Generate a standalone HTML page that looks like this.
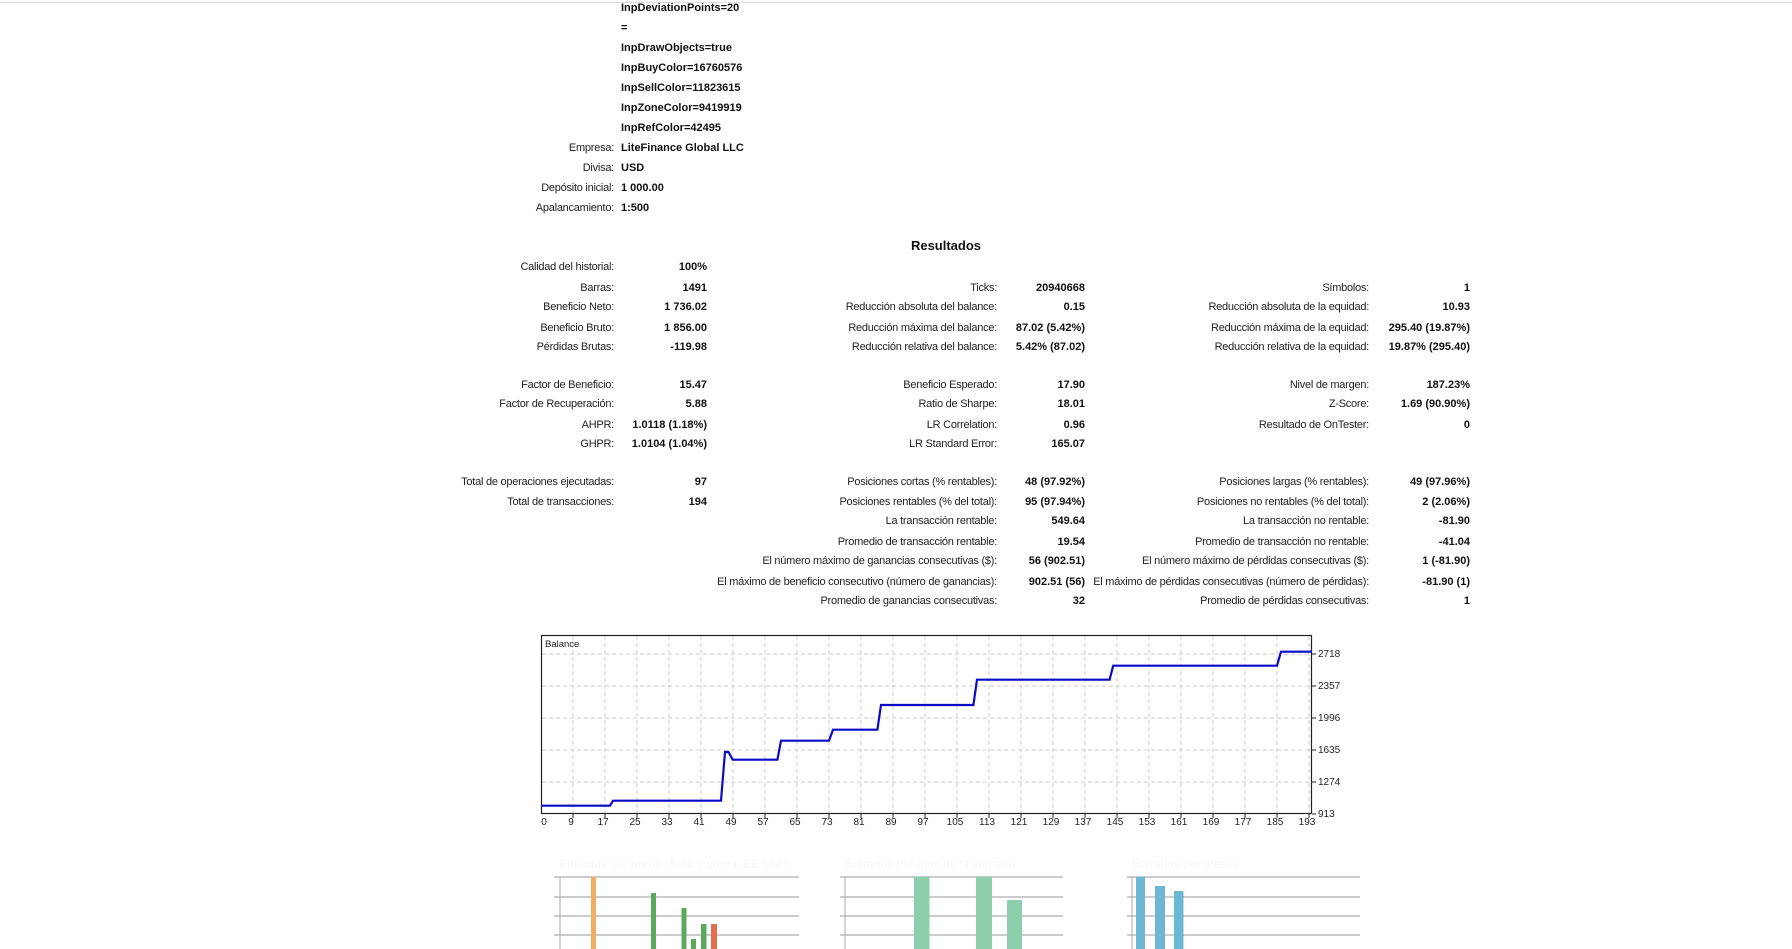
<!DOCTYPE html>
<html><head><meta charset="utf-8"><style>
body{margin:0;width:1792px;height:949px;overflow:hidden;background:#fff;position:relative;font-family:"Liberation Sans",sans-serif;color:#111}
.l,.v,.r{position:absolute;font-size:11px;line-height:14px;white-space:nowrap}
.l{text-align:right;color:#222;letter-spacing:-0.25px}
.v{font-weight:bold}
.r{font-weight:bold;text-align:right}
</style></head><body>
<div style="position:absolute;left:0;top:2px;width:1792px;height:1px;background:#ddd"></div>
<div id="c"></div>
<script>
(function(){
var c=document.getElementById('c'),h='';
function L(x,y,t){h+='<div class="l" style="right:'+(1792-x)+'px;top:'+(y-6)+'px">'+t+'</div>';}
function V(x,y,t){h+='<div class="v" style="left:'+x+'px;top:'+(y-6)+'px">'+t+'</div>';}
function R(x,y,t){h+='<div class="r" style="right:'+(1792-x)+'px;top:'+(y-6)+'px">'+t+'</div>';}
var topRows=[["","InpDeviationPoints=20"],["","="],["","InpDrawObjects=true"],["","InpBuyColor=16760576"],["","InpSellColor=11823615"],["","InpZoneColor=9419919"],["","InpRefColor=42495"],["Empresa:","LiteFinance Global LLC"],["Divisa:","USD"],["Depósito inicial:","1 000.00"],["Apalancamiento:","1:500"]];
topRows.forEach(function(r,i){var y=7+20*i;if(r[0])L(614,y,r[0]);V(621,y,r[1]);});
var rows=[
[266,"Calidad del historial:","100%"],
[287,"Barras:","1491","Ticks:","20940668","Símbolos:","1"],
[306,"Beneficio Neto:","1 736.02","Reducción absoluta del balance:","0.15","Reducción absoluta de la equidad:","10.93"],
[327,"Beneficio Bruto:","1 856.00","Reducción máxima del balance:","87.02 (5.42%)","Reducción máxima de la equidad:","295.40 (19.87%)"],
[346,"Pérdidas Brutas:","-119.98","Reducción relativa del balance:","5.42% (87.02)","Reducción relativa de la equidad:","19.87% (295.40)"],
[384,"Factor de Beneficio:","15.47","Beneficio Esperado:","17.90","Nivel de margen:","187.23%"],
[403,"Factor de Recuperación:","5.88","Ratio de Sharpe:","18.01","Z-Score:","1.69 (90.90%)"],
[424,"AHPR:","1.0118 (1.18%)","LR Correlation:","0.96","Resultado de OnTester:","0"],
[443,"GHPR:","1.0104 (1.04%)","LR Standard Error:","165.07"],
[481,"Total de operaciones ejecutadas:","97","Posiciones cortas (% rentables):","48 (97.92%)","Posiciones largas (% rentables):","49 (97.96%)"],
[501,"Total de transacciones:","194","Posiciones rentables (% del total):","95 (97.94%)","Posiciones no rentables (% del total):","2 (2.06%)"],
[520,"","","La transacción rentable:","549.64","La transacción no rentable:","-81.90"],
[541,"","","Promedio de transacción rentable:","19.54","Promedio de transacción no rentable:","-41.04"],
[560,"","","El número máximo de ganancias consecutivas ($):","56 (902.51)","El número máximo de pérdidas consecutivas ($):","1 (-81.90)"],
[581,"","","El máximo de beneficio consecutivo (número de ganancias):","902.51 (56)","El máximo de pérdidas consecutivas (número de pérdidas):","-81.90 (1)"],
[600,"","","Promedio de ganancias consecutivas:","32","Promedio de pérdidas consecutivas:","1"]];
rows.forEach(function(r){var y=r[0];if(r[1])L(614,y,r[1]);if(r[2])R(707,y,r[2]);if(r[3])L(997,y,r[3]);if(r[4])R(1085,y,r[4]);if(r[5])L(1369,y,r[5]);if(r[6])R(1470,y,r[6]);});
h+='<div style="position:absolute;left:846px;width:200px;text-align:center;top:238px;font-size:13px;font-weight:bold">Resultados</div>';
var s='<svg style="position:absolute;left:0;top:0" width="1792" height="949" font-family="Liberation Sans,sans-serif" font-size="10">';
for(var k=0;k<24;k++){var x=573+32*k;s+='<line x1="'+x+'" y1="636" x2="'+x+'" y2="813" stroke="#ccc" stroke-dasharray="4,3"/>';s+='<line x1="'+x+'" y1="814" x2="'+x+'" y2="818" stroke="#222"/>';}
var yl=[[654,"2718"],[686,"2357"],[718,"1996"],[750,"1635"],[782,"1274"],[814,"913"]];
yl.forEach(function(a){if(a[0]<814)s+='<line x1="542" y1="'+a[0]+'" x2="1311" y2="'+a[0]+'" stroke="#ccc" stroke-dasharray="4,3"/>';s+='<line x1="1312" y1="'+a[0]+'" x2="1316" y2="'+a[0]+'" stroke="#222"/><text x="1318" y="'+(a[0]+3)+'" fill="#222">'+a[1]+'</text>';});
s+='<text x="544" y="825" fill="#222" text-anchor="middle">0</text>';
for(var k=0;k<24;k++){s+='<text x="'+(571+32*k)+'" y="825" fill="#222" text-anchor="middle">'+(9+8*k)+'</text>';}
s+='<rect x="541.5" y="635.5" width="770" height="178" fill="none" stroke="#222" stroke-width="1.2"/>';
s+='<text x="545" y="647" fill="#222" font-size="9.5">Balance</text>';
var p="541,805.7 610,805.7 613,800.7 721,800.7 725,752 728.5,752 732.6,759.7 777.4,759.7 781,740.7 829,740.7 833,729.7 877.4,729.7 881,705 973.4,705 977,679.7 1109.6,679.7 1113.2,665.7 1277,665.7 1281,651.7 1312,651.7";
s+='<polyline points="'+p+'" fill="none" stroke="#0a0ac8" stroke-width="2.2"/>';
function grid(x1,x2,ax,t){[877,897,916,935].forEach(function(y){s+='<line x1="'+x1+'" y1="'+y+'" x2="'+x2+'" y2="'+y+'" stroke="#ccc" stroke-width="2"/>';});s+='<line x1="'+ax+'" y1="877" x2="'+ax+'" y2="949" stroke="#aaa"/><text x="'+(x1+5)+'" y="868" fill="#f6f6f6" font-size="12">'+t+'</text>';}
grid(554,799,560,"Entradas por horas (Asia, Europa, EE.UU.)");
grid(840,1063,845,"Entradas por días de la semana");
grid(1127,1360,1132,"Entradas por meses");
function bar(x1,x2,t,col){s+='<rect x="'+x1+'" y="'+t+'" width="'+(x2-x1)+'" height="'+(949-t)+'" fill="'+col+'"/>';}
bar(591,596,877,"#f0b060");bar(651,656,893,"#5aaa5a");bar(681.5,686.5,908,"#5aaa5a");bar(691,696,939,"#5aaa5a");bar(701,706.5,924,"#5aaa5a");bar(711,717,924,"#e07050");
bar(914,929.5,877,"#8ccfaa");bar(976,992,877,"#8ccfaa");bar(1007,1022,900,"#8ccfaa");
bar(1136,1145,877,"#6cb8d4");bar(1155,1165,886,"#6cb8d4");bar(1174,1183.5,891,"#6cb8d4");
s+='</svg>';
c.innerHTML=h+s;
})();
</script>
</body></html>
